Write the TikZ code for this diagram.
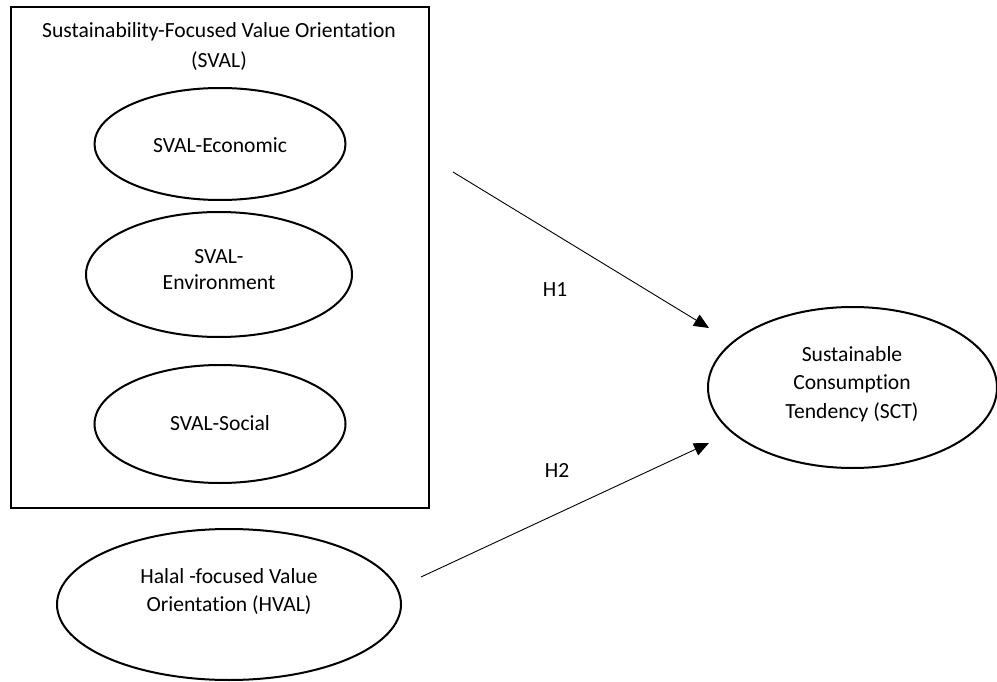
\documentclass[tikz,border=0pt]{standalone}
\usepackage{fontspec}
\setmainfont{Carlito}[Ligatures=NoCommon]
\usetikzlibrary{arrows.meta,shapes.geometric}
\begin{document}
\begin{tikzpicture}[x=1pt,y=-1pt,
  oval/.style={draw,ellipse,line width=2pt,inner sep=0pt},
  lbl/.style={align=center,font=\fontsize{21.6}{28}\selectfont,inner sep=0pt},
  link/.style={line width=0.9pt,-{Triangle[length=15pt,width=13pt]}}]
\useasboundingbox (0,0) rectangle (997,682);
\node[draw,line width=2.6pt,minimum width=418pt,minimum height=501pt,inner sep=0pt] (svalbox) at (220,257.5) {};
\node[lbl,font=\fontsize{21.6}{30}\selectfont] (title) at (219,47) {Sustainability-Focused Value Orientation\\(SVAL)};
\node[oval,minimum width=251pt,minimum height=112pt] (econ) at (220,144) {};
\node[lbl] (econtext) at (220,145) {SVAL-Economic};
\node[oval,minimum width=266pt,minimum height=125pt] (env) at (219,274.5) {};
\node[lbl,font=\fontsize{21.6}{26}\selectfont] (envtext) at (219,270) {SVAL-\\Environment};
\node[oval,minimum width=251pt,minimum height=118pt] (soc) at (220,424) {};
\node[lbl] (soctext) at (220,423) {SVAL-Social};
\node[oval,minimum width=344pt,minimum height=151pt] (hval) at (229,604.5) {};
\node[lbl] (hvaltext) at (229,591) {Halal -focused Value\\Orientation (HVAL)};
\node[oval,minimum width=289pt,minimum height=161pt] (sct) at (852.5,387.5) {};
\node[lbl,font=\fontsize{21.6}{28.5}\selectfont] (scttext) at (852,384) {Sustainable\\Consumption\\Tendency (SCT)};
\coordinate (h1s) at (453,172);
\coordinate (h1e) at (709,328);
\coordinate (h2s) at (421,577);
\coordinate (h2e) at (709,443);
\draw[link] (h1s) -- (h1e);
\draw[link] (h2s) -- (h2e);
\node[lbl] (h1) at (555,290) {H1};
\node[lbl] (h2) at (557,470) {H2};
\end{tikzpicture}
\end{document}
